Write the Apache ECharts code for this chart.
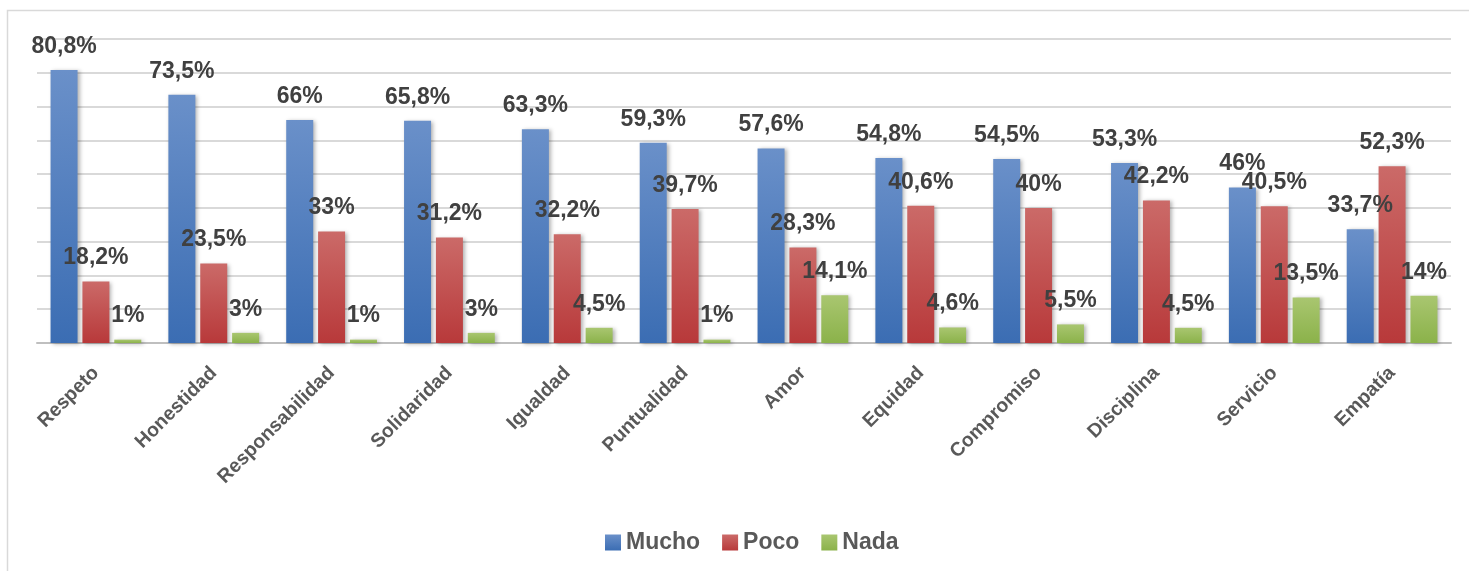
<!DOCTYPE html>
<html>
<head>
<meta charset="utf-8">
<script src="https://cdn.jsdelivr.net/npm/echarts@6/dist/echarts.min.js"></script>
<style>
  html, body { margin: 0; padding: 0; background: #fff; }
  #chart { width: 1469px; height: 571px; }
</style>
</head>
<body>
<div id="chart"></div>
<script>
// valores
const categories = ['Respeto', 'Honestidad', 'Responsabilidad', 'Solidaridad', 'Igualdad', 'Puntualidad',
  'Amor', 'Equidad', 'Compromiso', 'Disciplina', 'Servicio', 'Empatía'];
const mucho = [80.8, 73.5, 66, 65.8, 63.3, 59.3, 57.6, 54.8, 54.5, 53.3, 46, 33.7];
const poco = [18.2, 23.5, 33, 31.2, 32.2, 39.7, 28.3, 40.6, 40, 42.2, 40.5, 52.3];
const nada = [1, 3, 1, 3, 4.5, 1, 14.1, 4.6, 5.5, 4.5, 13.5, 14];

const chart = echarts.init(document.getElementById('chart'));

const grad = (top, bottom) => new echarts.graphic.LinearGradient(0, 0, 0, 1, [
  { offset: 0, color: top },
  { offset: 1, color: bottom }
]);

const labelFmt = (p) => String(p.value).replace('.', ',') + '%';

const makeSeries = (name, data, colorTop, colorBottom) => ({
  name: name,
  type: 'bar',
  data: data,
  barGap: '18%',
  barCategoryGap: '23%',
  itemStyle: {
    color: grad(colorTop, colorBottom),
    shadowBlur: 4,
    shadowOffsetX: 2,
    shadowOffsetY: 1,
    shadowColor: 'rgba(0,0,0,0.3)'
  },
  label: {
    show: true,
    position: 'top',
    distance: 12,
    formatter: labelFmt,
    fontFamily: 'Liberation Sans',
    fontWeight: 'bold',
    fontSize: 23,
    color: '#404040'
  }
});

const option = {
  animation: false,
  textStyle: { fontFamily: 'Liberation Sans' },
  graphic: [
    {
      type: 'polyline',
      shape: { points: [[7.5, 571], [7.5, 10.5], [1469, 10.5]] },
      style: { stroke: '#d9d9d9', lineWidth: 1.5, fill: null },
      silent: true
    }
  ],
  legend: {
    left: 600,
    top: 526,
    itemWidth: 16,
    itemHeight: 16,
    itemGap: 22,
    icon: 'rect',
    textStyle: {
      fontFamily: 'Liberation Sans',
      fontWeight: 'bold',
      fontSize: 23,
      color: '#595959'
    },
    data: ['Mucho', 'Poco', 'Nada']
  },
  grid: { left: 37, right: 18, top: 39, bottom: 228 },
  xAxis: {
    type: 'category',
    data: categories,
    axisTick: { show: false },
    axisLine: { lineStyle: { color: '#bfbfbf', width: 2 } },
    axisLabel: {
      rotate: 45,
      margin: 27,
      interval: 0,
      fontFamily: 'Liberation Sans',
      fontWeight: 'bold',
      fontSize: 19.5,
      color: '#595959'
    }
  },
  yAxis: {
    type: 'value',
    min: 0,
    max: 90,
    interval: 10,
    axisLabel: { show: false },
    axisLine: { show: false },
    axisTick: { show: false },
    splitLine: { lineStyle: { color: '#d9d9d9', width: 2 } }
  },
  series: [
    makeSeries('Mucho', mucho, '#6a90c9', '#3b6db3'),
    makeSeries('Poco', poco, '#cb6a68', '#b8393a'),
    makeSeries('Nada', nada, '#a9c670', '#8bb24a')
  ]
};

chart.setOption(option);
</script>
</body>
</html>
